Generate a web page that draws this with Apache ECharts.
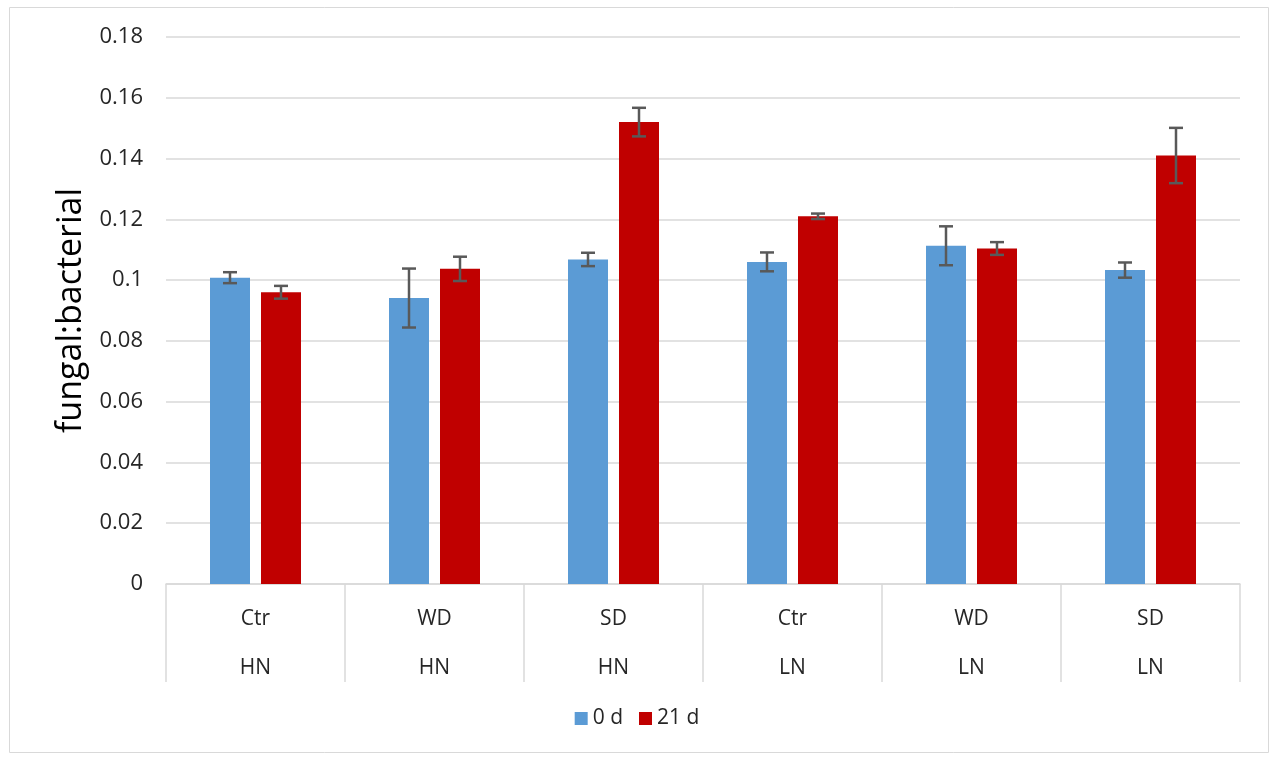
<!DOCTYPE html>
<html>
<head>
<meta charset="utf-8">
<script src="https://cdn.jsdelivr.net/npm/echarts@6/dist/echarts.min.js"></script>
<style>
  html, body { margin: 0; padding: 0; background: #fff; }
  #chart { width: 1274px; height: 758px; }
</style>
</head>
<body>
<div id="chart"></div>
<script>
// treatment / nitrogen level for each group
const treatments = ['Ctr', 'WD', 'SD', 'Ctr', 'WD', 'SD'];
const nitrogen = ['HN', 'HN', 'HN', 'LN', 'LN', 'LN'];

// fungal:bacterial ratio, mean and error
const day0 = [0.1008, 0.0941, 0.1068, 0.1060, 0.1113, 0.1033];
const day0Err = [0.0018, 0.0097, 0.0022, 0.0031, 0.0064, 0.0025];
const day21 = [0.0960, 0.1037, 0.1520, 0.1210, 0.1104, 0.1410];
const day21Err = [0.0021, 0.0040, 0.0047, 0.0009, 0.0021, 0.0091];

const yTicks = { min: 0, max: 0.18, interval: 0.02 };

const categories = treatments.map((t, i) => t + '\n' + nitrogen[i]);

const BAR_W = 40;
const BAR_GAP = 11;
const FONT = '"Open Sans", sans-serif';

function errorSeries(name, means, errs, side) {
  return {
    name: name,
    type: 'custom',
    z: 5,
    silent: true,
    data: means.map((m, i) => [i, m - errs[i], m + errs[i]]),
    renderItem: function (params, api) {
      const lo = api.coord([api.value(0), api.value(1)]);
      const hi = api.coord([api.value(0), api.value(2)]);
      const x = lo[0] + side * (BAR_W + BAR_GAP) / 2;
      const cap = 7;
      const style = { stroke: '#595959', lineWidth: 2.5 };
      return {
        type: 'group',
        children: [
          { type: 'line', shape: { x1: x, y1: lo[1], x2: x, y2: hi[1] }, style: style },
          { type: 'line', shape: { x1: x - cap, y1: lo[1], x2: x + cap, y2: lo[1] }, style: style },
          { type: 'line', shape: { x1: x - cap, y1: hi[1], x2: x + cap, y2: hi[1] }, style: style }
        ]
      };
    }
  };
}

const chart = echarts.init(document.getElementById('chart'));
chart.setOption({
  animation: false,
  textStyle: { fontFamily: FONT },
  graphic: [{
    type: 'rect',
    left: 7, top: 5,
    shape: { width: 1259, height: 745 },
    style: { fill: 'none', stroke: '#d9d9d9', lineWidth: 1 },
    silent: true
  }],
  grid: { left: 166, right: 34, top: 37, bottom: 174 },
  legend: {
    data: ['0 d', '21 d'],
    bottom: 24,
    left: 'center',
    icon: 'rect',
    itemWidth: 13,
    itemHeight: 13,
    itemGap: 16,
    textStyle: { fontSize: 21, color: '#262626', fontFamily: FONT }
  },
  xAxis: {
    type: 'category',
    data: categories,
    axisLine: { lineStyle: { color: '#d9d9d9', width: 1.5 } },
    axisTick: { show: true, length: 98, lineStyle: { color: '#d9d9d9', width: 1.5 } },
    axisLabel: {
      margin: 11,
      fontSize: 21,
      lineHeight: 49,
      color: '#262626',
      fontFamily: FONT
    }
  },
  yAxis: {
    type: 'value',
    min: yTicks.min,
    max: yTicks.max,
    interval: yTicks.interval,
    name: 'fungal:bacterial',
    nameLocation: 'middle',
    nameGap: 78,
    nameTextStyle: { fontSize: 34, color: '#000', fontFamily: FONT },
    axisLine: { show: false },
    axisTick: { show: false },
    axisLabel: { margin: 23, fontSize: 22, color: '#262626', fontFamily: FONT },
    splitLine: { lineStyle: { color: '#d9d9d9', width: 1.5 } }
  },
  series: [
    {
      name: '0 d',
      type: 'bar',
      data: day0,
      barWidth: BAR_W,
      barGap: (BAR_GAP / BAR_W * 100) + '%',
      itemStyle: { color: '#5b9bd5' }
    },
    {
      name: '21 d',
      type: 'bar',
      data: day21,
      barWidth: BAR_W,
      barGap: (BAR_GAP / BAR_W * 100) + '%',
      itemStyle: { color: '#c00000' }
    },
    errorSeries('err0', day0, day0Err, -1),
    errorSeries('err21', day21, day21Err, 1)
  ]
});
</script>
</body>
</html>
